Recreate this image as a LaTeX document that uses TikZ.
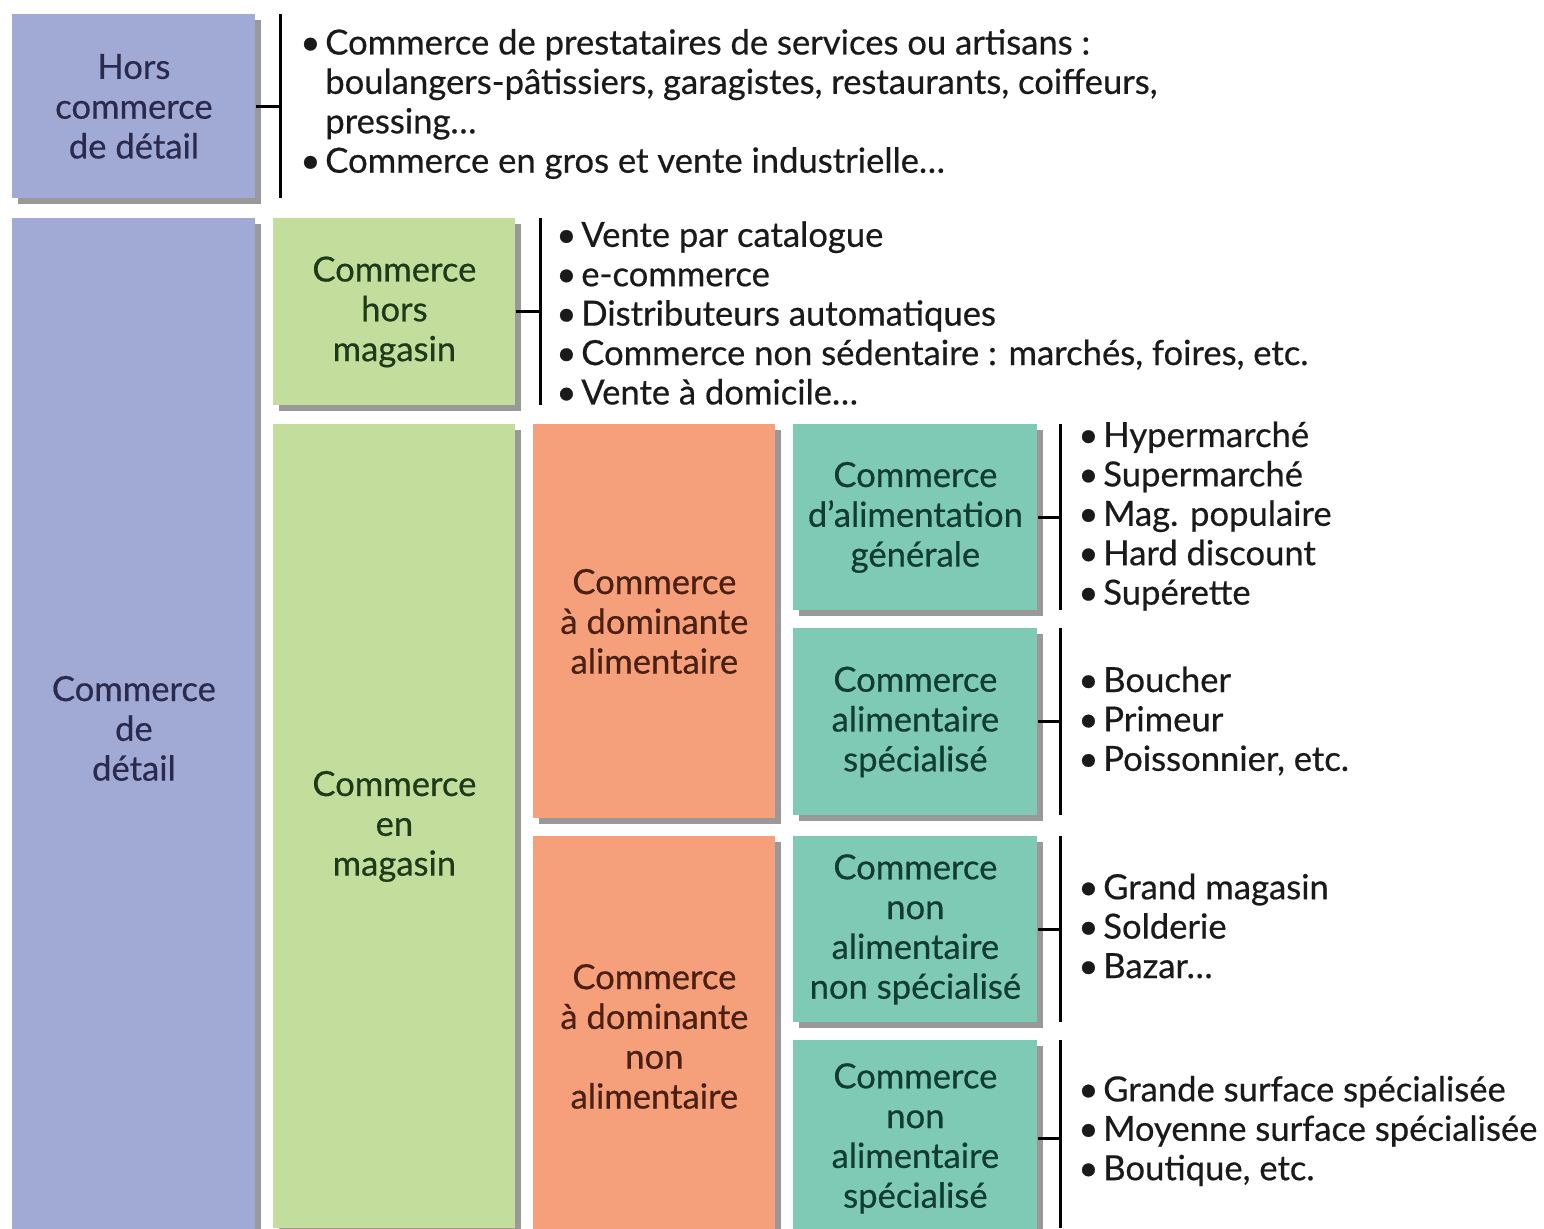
\documentclass[tikz,border=0pt]{standalone}
\usepackage{fontspec}
\setmainfont{Lato}[FakeBold=0.5]
\usetikzlibrary{shadows}
\definecolor{cblue}{HTML}{A1A9D5}
\definecolor{cgreen}{HTML}{C3DE9C}
\definecolor{corange}{HTML}{F5A07A}
\definecolor{cteal}{HTML}{7FCAB5}
\definecolor{tblue}{HTML}{2A2A4E}
\definecolor{tgreen}{HTML}{1E3A18}
\definecolor{torange}{HTML}{4A2012}
\definecolor{tteal}{HTML}{103C32}
\definecolor{tlist}{HTML}{1A1A1A}
\newcommand{\bul}{\makebox[0.72em][l]{•}}
\newcommand{\ind}{\hspace*{0.72em}}
\begin{document}
\begin{tikzpicture}[x=0.5pt,y=-0.5pt,
  box/.style={rectangle, inner sep=0pt, align=center, anchor=north west,
    font=\fontsize{17.3}{19.9}\selectfont,
    drop shadow={shadow xshift=3pt, shadow yshift=-3pt, fill=black, opacity=0.4}},
  lst/.style={anchor=west, align=left, inner sep=0pt, text=tlist, font=\fontsize{17.3}{19.7}\selectfont},
  brk/.style={line width=1.5pt, black}]
\useasboundingbox[fill=white] (0,0) rectangle (1544,1228);

% boxes
\node[box, fill=cblue, text=tblue, minimum width=121.5pt, minimum height=92pt] (hcd) at (12,14) {Hors\\commerce\\de détail};
\node[box, fill=cblue, text=tblue, minimum width=121.5pt, minimum height=510pt] (cd) at (12,218) {Commerce\\de\\détail};
\node[box, fill=cgreen, text=tgreen, minimum width=121pt, minimum height=93.5pt] (chm) at (273,218) {Commerce\\hors\\magasin};
\node[box, fill=cgreen, text=tgreen, minimum width=121pt, minimum height=402pt] (cem) at (273,424) {Commerce\\en\\magasin};
\node[box, fill=corange, text=torange, minimum width=121pt, minimum height=197pt] (cda) at (533,424) {Commerce\\à dominante\\alimentaire};
\node[box, fill=corange, text=torange, minimum width=121pt, minimum height=200pt] (cdn) at (533,836) {Commerce\\à dominante\\non\\alimentaire};
\node[box, fill=cteal, text=tteal, minimum width=122pt, minimum height=93pt] (cag) at (793,424) {Commerce\\d’alimentation\\générale};
\node[box, fill=cteal, text=tteal, minimum width=122pt, minimum height=93.5pt] (cas) at (793,628) {Commerce\\alimentaire\\spécialisé};
\node[box, fill=cteal, text=tteal, minimum width=122pt, minimum height=93pt] (cnn) at (793,836) {Commerce\\non\\alimentaire\\non spécialisé};
\node[box, fill=cteal, text=tteal, minimum width=122pt, minimum height=98pt] (cns) at (793,1040) {Commerce\\non\\alimentaire\\spécialisé};

% brackets
\coordinate (b1t) at (280,14);   \coordinate (b1b) at (280,198);
\coordinate (b2t) at (540,218);  \coordinate (b2b) at (540,405);
\coordinate (b3t) at (1060,424); \coordinate (b3b) at (1060,610);
\coordinate (b4t) at (1060,628); \coordinate (b4b) at (1060,815);
\coordinate (b5t) at (1060,836); \coordinate (b5b) at (1060,1022);
\coordinate (b6t) at (1060,1040);\coordinate (b6b) at (1060,1228);
\draw[brk] (b1t) -- (b1b);
\draw[brk] (b2t) -- (b2b);
\draw[brk] (b3t) -- (b3b);
\draw[brk] (b4t) -- (b4b);
\draw[brk] (b5t) -- (b5b);
\draw[brk] (b6t) -- (b6b);
\draw[brk] (hcd.east) -- (hcd.east -| b1t);
\draw[brk] (chm.east) -- (chm.east -| b2t);
\draw[brk] (cag.east) -- (cag.east -| b3t);
\draw[brk] (cas.east) -- (cas.east -| b4t);
\draw[brk] (cnn.east) -- (cnn.east -| b5t);
\draw[brk] (cns.east) -- (cns.east -| b6t);

% lists
\node[lst] (l1) at (300,104) {\bul Commerce de prestataires de services ou artisans :\\
\ind boulangers-pâtissiers, garagistes, restaurants, coiffeurs,\\
\ind pressing…\\
\bul Commerce en gros et vente industrielle…};
\node[lst] (l2) at (556,313) {\bul Vente par catalogue\\
\bul e-commerce\\
\bul Distributeurs automatiques\\
\bul Commerce non sédentaire : marchés, foires, etc.\\
\bul Vente à domicile…};
\node[lst] (l3) at (1078,516) {\bul Hypermarché\\
\bul Supermarché\\
\bul Mag. populaire\\
\bul Hard discount\\
\bul Supérette};
\node[lst] (l4) at (1078,721) {\bul Boucher\\
\bul Primeur\\
\bul Poissonnier, etc.};
\node[lst] (l5) at (1078,926) {\bul Grand magasin\\
\bul Solderie\\
\bul Bazar…};
\node[lst] (l6) at (1078,1131) {\bul Grande surface spécialisée\\
\bul Moyenne surface spécialisée\\
\bul Boutique, etc.};
\end{tikzpicture}
\end{document}
